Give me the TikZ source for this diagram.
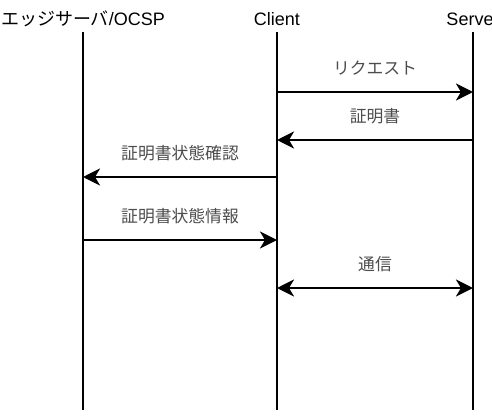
\documentclass[tikz,border=0pt]{standalone}
\usepackage{fontspec}
\setmainfont{Liberation Sans}
\newfontfamily\jpfont{Noto Sans CJK JP}
\usetikzlibrary{arrows.meta, positioning}

\begin{document}
\begin{tikzpicture}[
    x=1pt, y=1pt,
    % ── Lifeline heads: plain text, set on a common baseline ─────────
    actor/.style={font=\fontsize{18}{20}\selectfont, inner sep=0pt, anchor=base},
    % ── Lifelines: thick black ───────────────────────────────────────
    life/.style={line width=2.8pt, draw=black},
    % ── Messages: thick black, swept tips ────────────────────────────
    msg/.style={line width=2.8pt, draw=black,
                -{Stealth[length=17pt, width=17pt, inset=5pt]}},
    duplex/.style={line width=2.8pt, draw=black,
                {Stealth[length=17pt, width=17pt, inset=5pt]}-{Stealth[length=17pt, width=17pt, inset=5pt]}},
    % ── Message labels: grey, above the line ─────────────────────────
    lbl/.style={font=\jpfont\fontsize{16.8}{18}\selectfont, text=black!70,
                anchor=base, inner sep=0pt, yshift=18pt}
]
    \useasboundingbox (0,0) rectangle (492,-415);
    \clip (0,0) rectangle (492,-415);

% ══════════════════════════════════════════════════════════════════════
% LIFELINES
% ══════════════════════════════════════════════════════════════════════

    \node[actor] (edge)   at (83,-25)  {{\jpfont エッジサーバ}/OCSP};
    \node[actor] (client) at (277,-25) {Client};
    \node[actor] (server) at (473,-25) {Server};

    \foreach \n in {edge, client, server}
        \draw[life] ([yshift=-7pt]\n.base) -- ([yshift=-385pt]\n.base);

% ══════════════════════════════════════════════════════════════════════
% MESSAGES
% ══════════════════════════════════════════════════════════════════════

    \coordinate (req)   at (0,-92);
    \coordinate (cert)  at (0,-140);
    \coordinate (ask)   at (0,-177);
    \coordinate (reply) at (0,-240);
    \coordinate (talk)  at (0,-288);

    \draw[msg] (client |- req) --
        node[lbl]{リクエスト}
        (server |- req);

    \draw[msg] (server |- cert) --
        node[lbl]{証明書}
        (client |- cert);

    \draw[msg] (client |- ask) --
        node[lbl]{証明書状態確認}
        (edge |- ask);

    \draw[msg] (edge |- reply) --
        node[lbl]{証明書状態情報}
        (client |- reply);

    \draw[duplex] (client |- talk) --
        node[lbl]{通信}
        (server |- talk);

\end{tikzpicture}
\end{document}
